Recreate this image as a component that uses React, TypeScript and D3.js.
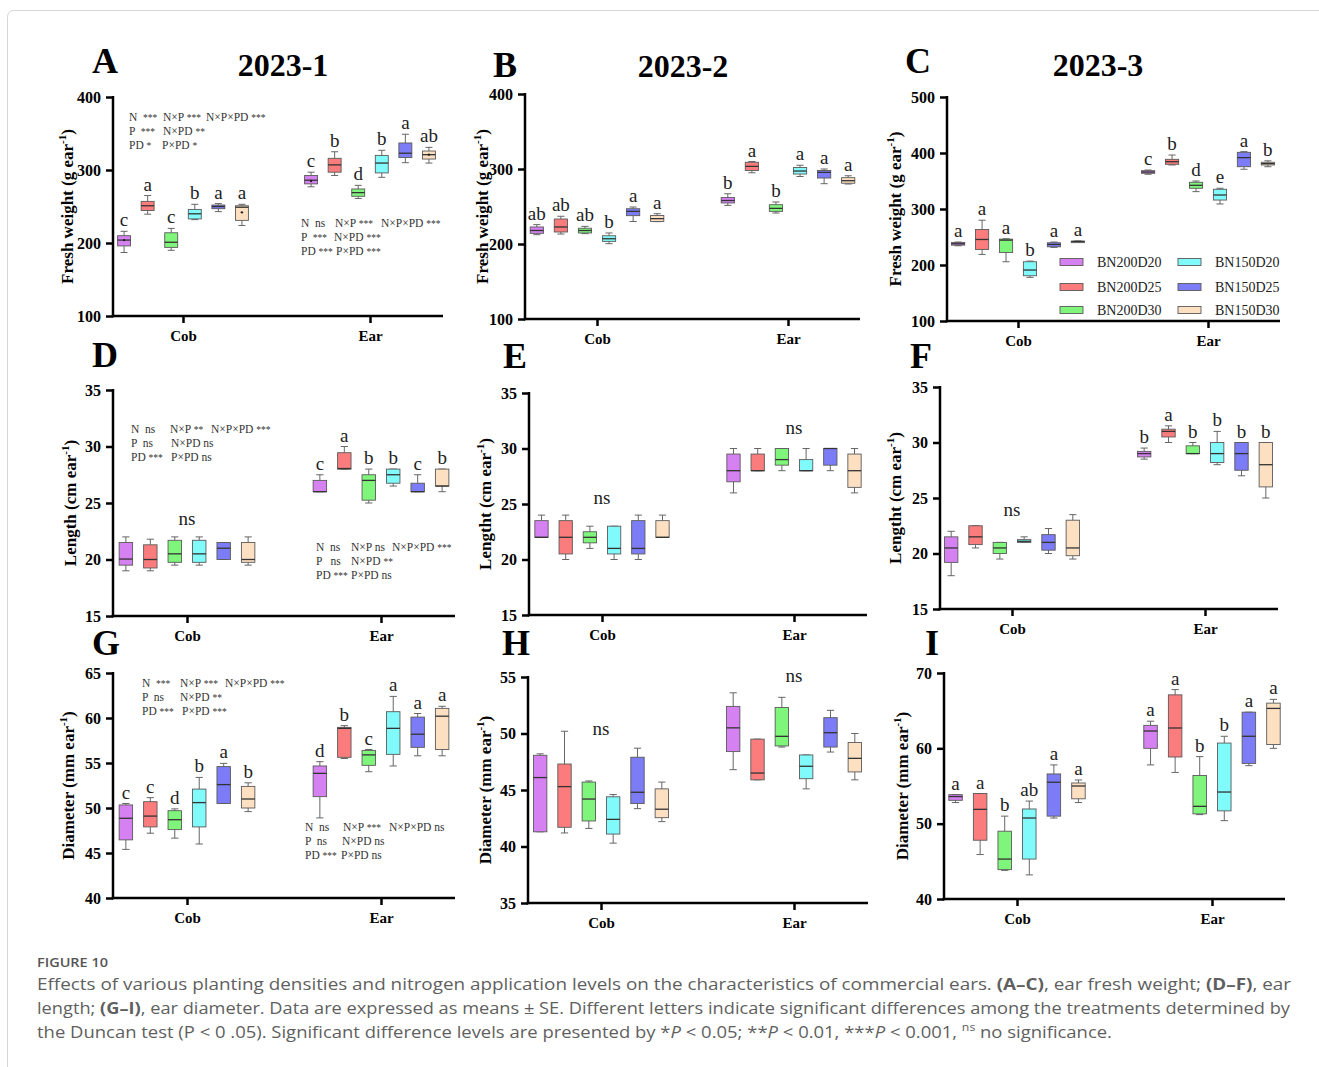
import { useEffect, useRef } from "react";
import * as d3 from "d3";

const treatments = ["BN200D20", "BN200D25", "BN200D30", "BN150D20", "BN150D25", "BN150D30"];
const groups = ["Cob", "Ear"];
const colors = ["#d681f1", "#fb7c7c", "#80f57c", "#80fafa", "#7c7cf6", "#fde0c2"];

// each box: [min, q1, median, q3, max]
const aCob = [[187, 196, 204, 210, 216], [239.5, 244.5, 251, 257, 265], [190, 194, 201, 214, 220], [232, 233, 240, 246, 253], [243, 247, 250, 252, 254], [224, 231, 249, 251, 253]];
const aEar = [[277, 281, 286, 292.5, 297], [292.5, 297, 307, 316, 325], [261, 264, 269, 274, 279], [290, 296, 309.5, 320, 327], [310, 317, 323, 337, 349], [309.5, 315, 321, 326, 331]];
const aCobLetters = ["c", "a", "c", "b", "a", "a"];
const aEarLetters = ["c", "b", "d", "b", "a", "ab"];
const aCobMean = [204, null, null, null, null, 242];
const aEarMean = [285, null, null, null, null, 321];

const bCob = [[212.4, 214.2, 218, 222.7, 225.8], [213.3, 216, 222.7, 233.3, 237], [213.8, 214.7, 218, 221, 223.5], [200.4, 203.5, 207, 211, 214.7], [230, 237.8, 243.5, 247, 249.3], [229.8, 230, 233.8, 238, 240.4]];
const bEar = [[251.5, 254.7, 258, 262, 267], [295, 298, 303.5, 309, 310], [241.3, 243.5, 247.5, 252.4, 256], [290, 293.3, 297.3, 302, 305], [280.4, 288, 295.5, 298, 300], [280, 281, 284.4, 288.4, 291]];
const bCobLetters = ["ab", "ab", "ab", "b", "a", "a"];
const bEarLetters = ["b", "a", "b", "a", "a", "a"];

const cCob = [[234.3, 235.5, 237.9, 240.3, 241], [218.9, 227.8, 245.6, 263.4, 280], [205.8, 222.4, 244.4, 246.2, 246.8], [177.9, 180.8, 191, 205.8, 207], [231.5, 232.5, 236.7, 239.7, 241], [241, 241, 242, 242.6, 243]];
const cEar = [[362, 363.8, 366, 368.4, 369.6], [378.6, 379.8, 384.5, 388.7, 396.4], [331, 337, 342.3, 347.7, 350], [309, 316, 325, 335.2, 337], [371, 375.5, 391.7, 401.2, 402.4], [375.5, 378.6, 381, 383.4, 386]];
const cCobLetters = ["a", "a", "a", "b", "a", "a"];
const cEarLetters = ["c", "b", "d", "e", "a", "b"];

const dCob = [[19, 19.5, 20.04, 21.5, 22], [19, 19.25, 20, 21.3, 21.8], [19.5, 19.75, 20.5, 21.7, 22], [19.5, 19.75, 20.5, 21.7, 22], [20, 20, 21, 21.5, 21.5], [19.5, 19.75, 20, 21.5, 22]];
const dEar = [[26, 26, 26, 27, 27.5], [28, 28, 28.05, 29.45, 30], [25, 25.25, 27, 27.5, 28], [26.5, 26.75, 27.5, 28, 28], [26, 26, 26, 26.75, 27.5], [26, 26.5, 26.5, 28, 28]];
const dEarLetters = ["c", "a", "b", "b", "c", "b"];

const eCob = [[22, 22, 22, 23.5, 24], [20, 20.5, 22, 23.5, 24], [21, 21.5, 22, 22.5, 23], [20, 20.5, 21, 23, 23], [20, 20.5, 21, 23.5, 24], [22, 22, 22, 23.5, 24]];
const eEar = [[26, 27, 28, 29.5, 30], [28, 28, 28, 29.5, 30], [28, 28.5, 29, 30, 30], [28, 28, 28, 29, 30], [28, 28.5, 30, 30, 30], [26, 26.5, 28, 29.5, 30]];

const fCob = [[18, 19.2, 20.5, 21.5, 22], [20.5, 20.8, 21.5, 22.5, 22.5], [19.5, 20, 20.5, 21, 21], [21, 21, 21.1, 21.25, 21.5], [20, 20.3, 21, 21.7, 22.25], [19.5, 19.8, 20.5, 23, 23.5]];
const fEar = [[28.5, 28.7, 29, 29.2, 29.5], [30, 30.5, 31, 31.2, 31.5], [29, 29, 29, 29.7, 30], [28, 28.2, 29, 30, 31], [27, 27.5, 29, 30, 30], [25, 26, 28, 30, 30]];
const fEarLetters = ["b", "a", "b", "b", "b", "b"];

const gCob = [[45.4, 46.46, 48.86, 50.34, 50.5], [47.2, 47.9, 49.1, 50.7, 51.15], [46.65, 47.6, 48.7, 49.7, 49.9], [46, 47.9, 50.6, 52.1, 53.4], [50.5, 50.5, 52.6, 54.6, 54.96], [49.6, 50, 51, 52.4, 52.8]];
const gEar = [[48.9, 51.26, 53.85, 54.67, 55.15], [55.5, 55.63, 58.85, 58.96, 59.15], [54.03, 54.74, 55.9, 56.4, 56.5], [54.67, 55.96, 58.85, 60.7, 62.4], [55.8, 56.74, 58.2, 60.1, 60.5], [55.8, 56.5, 60.2, 61.07, 61.3]];
const gCobLetters = ["c", "c", "d", "b", "a", "b"];
const gEarLetters = ["d", "b", "c", "a", "a", "a"];

const hCob = [[41.3, 41.3, 46.1, 48.07, 48.2], [41.2, 41.7, 45.3, 47.3, 50.2], [41.6, 42.26, 44.2, 45.7, 45.8], [40.3, 41.1, 42.4, 44.4, 44.6], [43.35, 43.8, 44.8, 47.9, 48.7], [42.2, 42.55, 43.3, 45.1, 45.7]];
const hEar = [[46.8, 48.4, 50.5, 52.4, 53.6], [45.9, 45.9, 46.5, 49.5, 49.5], [48.8, 48.9, 49.75, 52.3, 53.2], [45.1, 46, 47.1, 48.1, 48.1], [48.36, 48.8, 50.07, 51.4, 52.05], [45.9, 46.6, 47.8, 49.2, 50]];

const iCob = [[52.8, 53.1, 53.6, 53.85, 53.85], [45.9, 47.8, 51.9, 54, 54], [43.8, 43.9, 45.3, 49, 51], [43.2, 45.3, 50.75, 51.95, 53], [50.75, 51, 55.5, 56.6, 57.8], [52.8, 53.3, 55, 55.4, 55.8]];
const iEar = [[57.8, 60, 62.3, 63.05, 63.6], [56.8, 58.85, 62.7, 67.1, 67.8], [51.2, 51.3, 52.3, 56.4, 58.9], [50.4, 51.7, 54.2, 60.7, 61.6], [57.7, 58, 61.6, 64.8, 64.8], [60, 60.5, 65.3, 66, 66.5]];
const iCobLetters = ["a", "a", "b", "ab", "a", "a"];
const iEarLetters = ["a", "a", "b", "b", "a", "a"];

// ANOVA notes
const aCobStats = [["N  ***", "N×P ***", "N×P×PD ***"], ["P  ***", "N×PD **"], ["PD *", "P×PD *"]];
const aEarStats = [["N  ns", "N×P ***", "N×P×PD ***"], ["P  ***", "N×PD ***"], ["PD ***", "P×PD ***"]];
const dCobStats = [["N  ns", "N×P **", "N×P×PD ***"], ["P  ns", "N×PD ns"], ["PD ***", "P×PD ns"]];
const dEarStats = [["N  ns", "N×P ns", "N×P×PD ***"], ["P   ns", "N×PD **"], ["PD ***", "P×PD ns"]];
const gCobStats = [["N  ***", "N×P ***", "N×P×PD ***"], ["P  ns", "N×PD **"], ["PD ***", "P×PD ***"]];
const gEarStats = [["N  ns", "N×P ***", "N×P×PD ns"], ["P  ns", "N×PD ns"], ["PD ***", "P×PD ns"]];

const weightTicks = [100, 200, 300, 400];
const weightTicksC = [100, 200, 300, 400, 500];
const lengthTicks = [15, 20, 25, 30, 35];
const diamTicksG = [40, 45, 50, 55, 60, 65];
const diamTicksH = [35, 40, 45, 50, 55];
const diamTicksI = [40, 50, 60, 70];

const serif = "'Liberation Serif', 'Times New Roman', serif";

const panels = [
  { tag: "A", title: "2023-1", label: "Fresh weight (g ear", domain: [100, 400], ticks: weightTicks, cob: aCob, ear: aEar, cobLetters: aCobLetters, earLetters: aEarLetters, cobMean: aCobMean, earMean: aEarMean,
    left: 113, right: 443, top: 97, bottom: 316, cobX: 183, earX: 370, tagX: 92, tagY: 73, titleX: 283, titleY: 76, labelX: 67,
    stats: [{ lines: aCobStats, x: 129, y: 121, cols: [[0, 34, 77], [0, 34], [0, 33]] }, { lines: aEarStats, x: 301, y: 227, cols: [[0, 34, 80], [0, 33], [0, 35]] }] },
  { tag: "B", title: "2023-2", label: "Fresh weight (g ear", domain: [100, 400], ticks: weightTicks, cob: bCob, ear: bEar, cobLetters: bCobLetters, earLetters: bEarLetters,
    left: 525, right: 860, top: 94, bottom: 319, cobX: 597, earX: 788, tagX: 493, tagY: 77, titleX: 683, titleY: 77, labelX: 482 },
  { tag: "C", title: "2023-3", label: "Fresh weight (g ear", domain: [100, 500], ticks: weightTicksC, cob: cCob, ear: cEar, cobLetters: cCobLetters, earLetters: cEarLetters,
    left: 947, right: 1280, top: 97, bottom: 321, cobX: 1018, earX: 1208, tagX: 905, tagY: 73, titleX: 1098, titleY: 76, labelX: 895, legend: true },
  { tag: "D", label: "Length (cm ear", domain: [15, 35], ticks: lengthTicks, cob: dCob, ear: dEar, earLetters: dEarLetters, cobNs: 23.05,
    left: 113, right: 455, top: 390, bottom: 616, cobX: 187, earX: 381, tagX: 92, tagY: 367, labelX: 70,
    stats: [{ lines: dCobStats, x: 131, y: 433, cols: [[0, 39, 80], [0, 40], [0, 40]] }, { lines: dEarStats, x: 316, y: 551, cols: [[0, 35, 76], [0, 35], [0, 35]] }] },
  { tag: "E", label: "Lengtht (cm ear", domain: [15, 35], ticks: lengthTicks, cob: eCob, ear: eEar, cobNs: 25, earNs: 31.3,
    left: 529, right: 867, top: 393, bottom: 615, cobX: 602, earX: 794, tagX: 503, tagY: 368, labelX: 485 },
  { tag: "F", label: "Lengtht (cm ear", domain: [15, 35], ticks: lengthTicks, cob: fCob, ear: fEar, earLetters: fEarLetters, cobNs: 23.4,
    left: 940, right: 1278, top: 387, bottom: 609, cobX: 1012, earX: 1205, tagX: 910, tagY: 368, labelX: 895 },
  { tag: "G", label: "Diameter (mm ear", domain: [40, 65], ticks: diamTicksG, cob: gCob, ear: gEar, cobLetters: gCobLetters, earLetters: gEarLetters,
    left: 113, right: 455, top: 673, bottom: 898, cobX: 187, earX: 381, tagX: 92, tagY: 655, labelX: 68,
    stats: [{ lines: gCobStats, x: 142, y: 687, cols: [[0, 38, 83], [0, 38], [0, 40]] }, { lines: gEarStats, x: 305, y: 831, cols: [[0, 38, 84], [0, 37], [0, 36]] }] },
  { tag: "H", label: "Diameter (mm ear", domain: [35, 55], ticks: diamTicksH, cob: hCob, ear: hEar, cobNs: 49.9, earNs: 54.6,
    left: 528, right: 868, top: 677, bottom: 903, cobX: 601, earX: 794, tagX: 502, tagY: 655, labelX: 485 },
  { tag: "I", label: "Diameter (mm ear", domain: [40, 70], ticks: diamTicksI, cob: iCob, ear: iEar, cobLetters: iCobLetters, earLetters: iEarLetters,
    left: 944, right: 1285, top: 673, bottom: 899, cobX: 1017, earX: 1212, tagX: 925, tagY: 655, labelX: 902 },
];

const App = () => {
  const svgRef = useRef(null);

  useEffect(() => {
    const svg = d3.select(svgRef.current);
    svg.selectAll("*").remove();

    // card border
    svg.append("rect").attr("x", 7.5).attr("y", 10.5).attr("width", 1340).attr("height", 1100)
      .attr("rx", 6).attr("fill", "none").attr("stroke", "#d6d6d6");

    panels.forEach((p) => {
      const g = svg.append("g");
      const y = d3.scaleLinear().domain(p.domain).range([p.bottom, p.top]);
      const x = d3.scalePoint().domain(groups).range([p.cobX, p.earX]);
      const span = (p.earX - p.cobX) * 0.75;
      const inner = d3.scaleBand().domain(treatments).range([-span / 2, span / 2]).paddingInner(0.45).paddingOuter(0.2);
      const bw = inner.bandwidth();

      // panel tag + title
      g.append("text").attr("x", p.tagX).attr("y", p.tagY).attr("font-family", serif)
        .attr("font-size", 36).attr("font-weight", "bold").text(p.tag);
      if (p.title) {
        g.append("text").attr("x", p.titleX).attr("y", p.titleY).attr("text-anchor", "middle")
          .attr("font-family", serif).attr("font-size", 32).attr("font-weight", "bold").text(p.title);
      }

      // Y axis
      const yAx = g.append("g").attr("transform", `translate(${p.left},0)`)
        .call(d3.axisLeft(y).tickValues(p.ticks).tickSize(7).tickSizeOuter(0).tickPadding(5).tickFormat(d3.format("d")));
      yAx.select(".domain").remove();
      yAx.selectAll("line").attr("stroke", "#000").attr("stroke-width", 2.5);
      yAx.selectAll("text").attr("font-family", serif).attr("font-size", 16).attr("font-weight", "bold").attr("fill", "#000");

      // X axis
      const xAx = g.append("g").attr("transform", `translate(0,${p.bottom})`)
        .call(d3.axisBottom(x).tickSize(7).tickSizeOuter(0).tickPadding(7));
      xAx.select(".domain").remove();
      xAx.selectAll("line").attr("stroke", "#000").attr("stroke-width", 2.5);
      xAx.selectAll("text").attr("font-family", serif).attr("font-size", 15).attr("font-weight", "bold").attr("fill", "#000");

      g.append("line").attr("x1", p.left).attr("x2", p.left).attr("y1", p.top - 1).attr("y2", p.bottom + 1.25)
        .attr("stroke", "#000").attr("stroke-width", 2.5);
      g.append("line").attr("x1", p.left - 1.25).attr("x2", p.right).attr("y1", p.bottom).attr("y2", p.bottom)
        .attr("stroke", "#000").attr("stroke-width", 2.5);

      // Y title
      const mid = (p.top + p.bottom) / 2;
      const yt = g.append("text").attr("transform", `translate(${p.labelX},${mid}) rotate(-90)`)
        .attr("text-anchor", "middle").attr("dy", "0.35em").attr("font-family", serif)
        .attr("font-size", 17).attr("font-weight", "bold");
      yt.append("tspan").text(p.label);
      yt.append("tspan").attr("font-size", 11).attr("dy", -7).text("-1");
      yt.append("tspan").attr("dy", 7).text(")");

      // boxes
      [p.cob, p.ear].forEach((series, gi) => {
        const gx = x(groups[gi]);
        const letters = gi === 0 ? p.cobLetters : p.earLetters;
        const means = gi === 0 ? p.cobMean : p.earMean;
        series.forEach((s, i) => {
          const cx = gx + inner(treatments[i]) + bw / 2;
          const [mn, q1, md, q3, mx] = s;
          const bg = g.append("g");
          const cap = bw * 0.27;
          bg.append("line").attr("x1", cx).attr("x2", cx).attr("y1", y(mx)).attr("y2", y(q3)).attr("stroke", "#666").attr("stroke-width", 1);
          bg.append("line").attr("x1", cx).attr("x2", cx).attr("y1", y(q1)).attr("y2", y(mn)).attr("stroke", "#666").attr("stroke-width", 1);
          bg.append("line").attr("x1", cx - cap).attr("x2", cx + cap).attr("y1", y(mx)).attr("y2", y(mx)).attr("stroke", "#666").attr("stroke-width", 1);
          bg.append("line").attr("x1", cx - cap).attr("x2", cx + cap).attr("y1", y(mn)).attr("y2", y(mn)).attr("stroke", "#666").attr("stroke-width", 1);
          bg.append("rect").attr("x", cx - bw / 2).attr("y", y(q3)).attr("width", bw)
            .attr("height", Math.max(1.5, y(q1) - y(q3))).attr("fill", colors[i])
            .attr("stroke", "#5a5a5a").attr("stroke-width", 0.9);
          bg.append("line").attr("x1", cx - bw / 2).attr("x2", cx + bw / 2).attr("y1", y(md)).attr("y2", y(md))
            .attr("stroke", "#333").attr("stroke-width", 1.3);
          if (means && means[i] != null) {
            bg.append("circle").attr("cx", cx).attr("cy", y(means[i])).attr("r", 1.2).attr("fill", "#222");
          }
          if (letters) {
            bg.append("text").attr("x", cx).attr("y", y(mx) - 5).attr("text-anchor", "middle")
              .attr("font-family", serif).attr("font-size", 19).attr("fill", "#222").text(letters[i]);
          }
        });
      });

      // ns labels
      if (p.cobNs != null) {
        g.append("text").attr("x", x("Cob")).attr("y", y(p.cobNs)).attr("text-anchor", "middle")
          .attr("font-family", serif).attr("font-size", 19).attr("fill", "#222").text("ns");
      }
      if (p.earNs != null) {
        g.append("text").attr("x", x("Ear")).attr("y", y(p.earNs)).attr("text-anchor", "middle")
          .attr("font-family", serif).attr("font-size", 19).attr("fill", "#222").text("ns");
      }

      // ANOVA notes, asterisks set a bit smaller
      (p.stats || []).forEach((st) => {
        st.lines.forEach((line, li) => {
          line.forEach((cell, ci) => {
            const t = g.append("text").attr("x", st.x + st.cols[li][ci]).attr("y", st.y + li * 14)
              .attr("xml:space", "preserve").style("white-space", "pre")
              .attr("font-family", serif).attr("font-size", 11.5).attr("fill", "#333");
            cell.split(/(\*+)/).filter((s) => s).forEach((part) => {
              const ts = t.append("tspan").text(part);
              if (part[0] === "*") ts.attr("font-size", 9.5);
            });
          });
        });
      });

      // legend
      if (p.legend) {
        const colX = [[1060, 1097], [1178, 1215]];
        const rowY = [262, 287, 310];
        treatments.forEach((t, i) => {
          const c = Math.floor(i / 3);
          const r = i % 3;
          g.append("rect").attr("x", colX[c][0]).attr("y", rowY[r] - 3.5).attr("width", 23).attr("height", 7)
            .attr("fill", colors[i]).attr("stroke", "#5a5a5a").attr("stroke-width", 0.9);
          g.append("text").attr("x", colX[c][1]).attr("y", rowY[r] + 5).attr("font-family", serif)
            .attr("font-size", 14).attr("fill", "#222").text(t);
        });
      }
    });

    // caption
    const sans = "'Open Sans', 'Noto Sans', sans-serif";
    svg.append("text").attr("x", 37).attr("y", 967).attr("font-family", sans).attr("font-size", 13)
      .attr("font-weight", 600).attr("fill", "#555").attr("textLength", 71).attr("lengthAdjust", "spacingAndGlyphs")
      .text("FIGURE 10");

    const cap = (yy, len) => svg.append("text").attr("x", 37).attr("y", yy).attr("font-family", sans)
      .attr("font-size", 16.5).attr("fill", "#5f5f5f").attr("textLength", len).attr("lengthAdjust", "spacingAndGlyphs");
    const l1 = cap(990, 1254);
    l1.append("tspan").text("Effects of various planting densities and nitrogen application levels on the characteristics of commercial ears. ");
    l1.append("tspan").attr("font-weight", "bold").text("(A–C)");
    l1.append("tspan").text(", ear fresh weight; ");
    l1.append("tspan").attr("font-weight", "bold").text("(D–F)");
    l1.append("tspan").text(", ear");
    const l2 = cap(1014, 1253);
    l2.append("tspan").text("length; ");
    l2.append("tspan").attr("font-weight", "bold").text("(G–I)");
    l2.append("tspan").text(", ear diameter. Data are expressed as means ± SE. Different letters indicate significant differences among the treatments determined by");
    const l3 = cap(1038, 1075);
    l3.append("tspan").text("the Duncan test (P < 0 .05). Significant difference levels are presented by *");
    l3.append("tspan").attr("font-style", "italic").text("P");
    l3.append("tspan").text(" < 0.05; **");
    l3.append("tspan").attr("font-style", "italic").text("P");
    l3.append("tspan").text(" < 0.01, ***");
    l3.append("tspan").attr("font-style", "italic").text("P");
    l3.append("tspan").text(" < 0.001, ");
    l3.append("tspan").attr("font-size", 11).attr("dy", -7).text("ns");
    l3.append("tspan").attr("dy", 7).text(" no significance.");
  }, []);

  return (
    <svg ref={svgRef} width={1319} height={1067} viewBox="0 0 1319 1067"
      style={{ position: "absolute", left: 0, top: 0, background: "#fff" }}></svg>
  );
};

export default App;
